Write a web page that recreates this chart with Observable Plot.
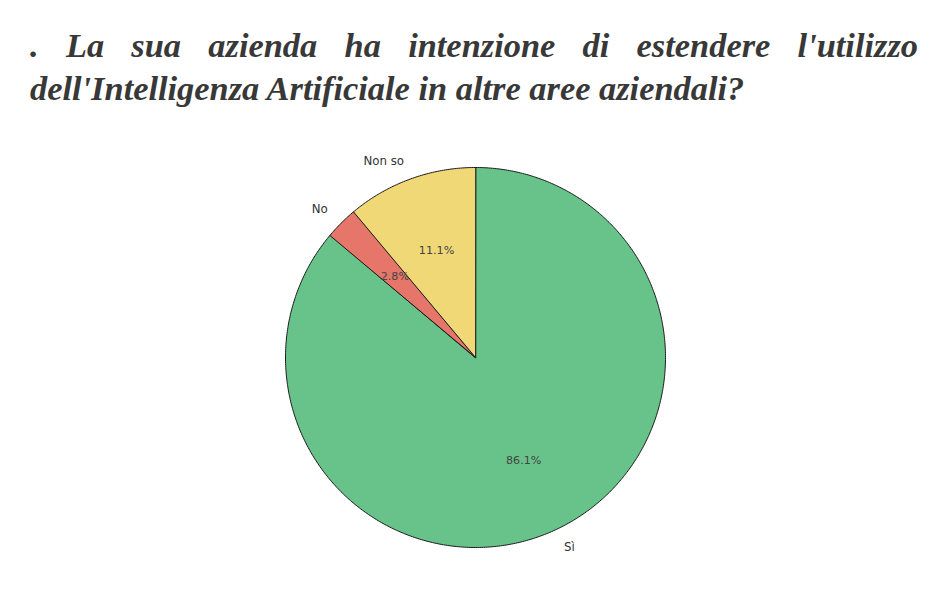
<!DOCTYPE html>
<html>
<head>
<meta charset="utf-8">
<script src="https://cdn.jsdelivr.net/npm/d3@7"></script>
<script src="https://cdn.jsdelivr.net/npm/@observablehq/plot@0.6"></script>
<style>
  html, body { margin: 0; padding: 0; background: #fff; }
  #title {
    font-family: "Liberation Serif", "DejaVu Serif", serif;
    font-style: italic;
    font-weight: bold;
    font-size: 34.4px;
    line-height: 43px;
    color: #383838;
    text-align: justify;
    padding: 24px 31px 0 30px;
    width: 888px;
    box-sizing: content-box;
  }
  #chart { position: absolute; left: 0; top: 128px; }
</style>
</head>
<body>
<div id="title">. La sua azienda ha intenzione di estendere l'utilizzo dell'Intelligenza Artificiale in altre aree aziendali?</div>
<div id="chart"></div>
<script>
const categories = ["Sì", "No", "Non so"];
const values = [86.1, 2.8, 11.1];
const colors = ["#68c38a", "#e6756a", "#f0d877"];

const W = 949, H = 480, R = 190, cx = 475, cy = 229;

const pie = d3.pie().sort(null).value(d => d.value)(
  categories.map((c, i) => ({category: c, value: values[i]}))
);

// polygon points for each slice (angles clockwise from top)
const pts = [];
pie.forEach(p => {
  const cat = p.data.category;
  pts.push({category: cat, x: 0, y: 0});
  const n = Math.max(4, Math.ceil((p.endAngle - p.startAngle) / 0.01));
  for (let k = 0; k <= n; k++) {
    const a = p.startAngle + (p.endAngle - p.startAngle) * k / n;
    pts.push({category: cat, x: Math.sin(a), y: Math.cos(a)});
  }
});

const mids = pie.map(p => {
  const a = (p.startAngle + p.endAngle) / 2;
  return {
    category: p.data.category,
    pct: p.data.value.toFixed(1) + "%",
    sx: Math.sin(a), cy: Math.cos(a)
  };
});
const leftLabels = mids.filter(d => d.sx < 0);
const rightLabels = mids.filter(d => d.sx >= 0);

const chart = Plot.plot({
  width: W,
  height: H,
  margin: 0,
  x: {domain: [-cx / R, (W - cx) / R], axis: null},
  y: {domain: [-(H - cy) / R, cy / R], axis: null},
  color: {domain: categories, range: colors},
  style: {fontFamily: "DejaVu Sans, sans-serif", background: "white"},
  marks: [
    Plot.line(pts, {
      x: "x", y: "y", z: "category", fill: "category",
      stroke: "#1a1a1a", strokeWidth: 1, curve: "linear-closed"
    }),
    Plot.text(mids, {
      x: d => 0.6 * d.sx, y: d => 0.6 * d.cy, text: "pct",
      fill: "#444", fontSize: 11.2
    }),
    Plot.text(leftLabels, {
      x: d => 1.1 * d.sx, y: d => 1.1 * d.cy, text: "category",
      textAnchor: "end", fill: "#333", fontSize: 11.8
    }),
    Plot.text(rightLabels, {
      x: d => 1.1 * d.sx, y: d => 1.1 * d.cy, text: "category",
      textAnchor: "start", fill: "#333", fontSize: 11.8
    })
  ]
});
document.getElementById("chart").appendChild(chart);
</script>
</body>
</html>
